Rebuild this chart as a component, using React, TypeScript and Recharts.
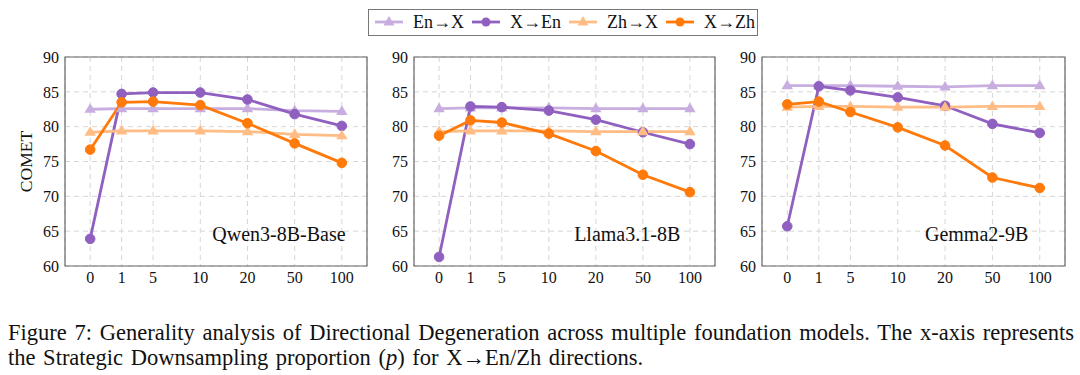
import React from "react";
import {
  LineChart,
  Line,
  XAxis,
  YAxis,
  CartesianGrid,
  ReferenceArea,
  ReferenceDot,
} from "recharts";

// proportion p (x axis is not linear in p, so each label has its own slot)
const xLabels = ["0", "1", "5", "10", "20", "50", "100"];
const xSlots = [0, 1, 2, 3.5, 5, 6.5, 8];
const yTicks = [60, 65, 70, 75, 80, 85, 90];

const qwenEnX = [82.5, 82.6, 82.6, 82.6, 82.6, 82.3, 82.2];
const qwenXEn = [63.9, 84.7, 84.9, 84.9, 83.9, 81.8, 80.1];
const qwenZhX = [79.2, 79.4, 79.4, 79.4, 79.3, 78.9, 78.7];
const qwenXZh = [76.7, 83.5, 83.6, 83.1, 80.5, 77.6, 74.8];

const llamaEnX = [82.6, 82.7, 82.7, 82.7, 82.6, 82.6, 82.6];
const llamaXEn = [61.3, 82.9, 82.8, 82.3, 81.0, 79.2, 77.5];
const llamaZhX = [79.3, 79.4, 79.4, 79.4, 79.3, 79.3, 79.3];
const llamaXZh = [78.7, 80.9, 80.6, 79.0, 76.5, 73.1, 70.6];

const gemmaEnX = [85.9, 85.9, 85.9, 85.8, 85.7, 85.9, 85.9];
const gemmaXEn = [65.7, 85.8, 85.2, 84.2, 83.0, 80.4, 79.1];
const gemmaZhX = [82.8, 82.9, 82.9, 82.8, 82.8, 82.9, 82.9];
const gemmaXZh = [83.2, 83.6, 82.1, 79.9, 77.3, 72.7, 71.2];

const series = [
  { key: "enx", name: "En→X", color: "#c8aee0", shape: "tri" },
  { key: "xen", name: "X→En", color: "#9060c0", shape: "circle" },
  { key: "zhx", name: "Zh→X", color: "#ffbd85", shape: "tri" },
  { key: "xzh", name: "X→Zh", color: "#ff7a0a", shape: "circle" },
];

const rows = (a: number[], b: number[], c: number[], d: number[]) =>
  xSlots.map((x, i) => ({ x, enx: a[i], xen: b[i], zhx: c[i], xzh: d[i] }));

const panels = [
  { title: "Qwen3-8B-Base", data: rows(qwenEnX, qwenXEn, qwenZhX, qwenXZh), left: 0, yw: 65, w: 370, ylabel: true },
  { title: "Llama3.1-8B", data: rows(llamaEnX, llamaXEn, llamaZhX, llamaXZh), left: 360, yw: 54, w: 358, ylabel: false },
  { title: "Gemma2-9B", data: rows(gemmaEnX, gemmaXEn, gemmaZhX, gemmaXZh), left: 720, yw: 42, w: 348, ylabel: false },
];

const serif = "'Liberation Serif', 'DejaVu Serif', serif";

function makeDot(shape: string, color: string) {
  return (p: any) => {
    const { cx, cy, index } = p;
    if (cx == null || cy == null) return <g key={index} />;
    if (shape === "circle") {
      return <circle key={index} cx={cx} cy={cy} r={4.8} fill={color} stroke={color} />;
    }
    const s = 6;
    return (
      <path
        key={index}
        d={`M${cx},${cy - s} L${cx + s * 0.95},${cy + s * 0.6} L${cx - s * 0.95},${cy + s * 0.6} Z`}
        fill={color}
      />
    );
  };
}

function Panel({ p }: { p: (typeof panels)[number] }) {
  return (
    <div style={{ position: "absolute", left: p.left, top: 0 }}>
      <LineChart
        width={p.w}
        height={300}
        data={p.data}
        margin={{ top: 57, right: 3, left: 0, bottom: 4 }}
      >
        <CartesianGrid stroke="#d6d6d6" strokeDasharray="5 4" />
        <XAxis
          dataKey="x"
          type="number"
          domain={[-0.8, 8.8]}
          ticks={xSlots}
          tickFormatter={(v: number) => xLabels[xSlots.indexOf(v)]}
          axisLine={false}
          tickLine={false}
          tickSize={0}
          tickMargin={6}
          height={30}
          tick={{ fill: "#111", fontSize: 16, fontFamily: serif }}
          interval={0}
        />
        <YAxis
          type="number"
          domain={[60, 90]}
          ticks={yTicks}
          axisLine={false}
          tickLine={false}
          tickSize={0}
          tickMargin={6}
          width={p.yw}
          tick={{ fill: "#111", fontSize: 16, fontFamily: serif }}
          interval={0}
          label={
            p.ylabel
              ? {
                  value: "COMET",
                  angle: -90,
                  position: "insideLeft",
                  offset: 26,
                  style: { fill: "#111", fontSize: 17.5, fontFamily: serif, textAnchor: "middle" },
                }
              : undefined
          }
        />
        <ReferenceArea
          x1={-0.8}
          x2={8.8}
          y1={60}
          y2={90}
          fill="none"
          fillOpacity={0}
          stroke="#666"
          strokeWidth={1.2}
        />
        {series.map((s) => (
          <Line
            key={s.key}
            type="linear"
            dataKey={s.key}
            stroke={s.color}
            strokeWidth={2.8}
            dot={makeDot(s.shape, s.color)}
            activeDot={false}
            isAnimationActive={false}
          />
        ))}
        <ReferenceDot
          x={6}
          y={64.6}
          r={0}
          fill="none"
          stroke="none"
          label={{
            value: p.title,
            position: "center",
            style: { fill: "#111", fontSize: 20, fontFamily: serif },
          }}
        />
      </LineChart>
    </div>
  );
}

function LegendBox() {
  return (
    <div
      style={{
        position: "absolute",
        left: 368,
        top: 9,
        width: 390,
        height: 27,
        border: "1.5px solid #777",
        boxSizing: "border-box",
        fontFamily: serif,
        fontSize: 18,
        color: "#111",
      }}
    >
      {series.map((s, i) => (
        <div
          key={s.key}
          style={{
            position: "absolute",
            left: 5 + i * 97,
            top: 0,
            height: 24,
            display: "flex",
            alignItems: "center",
            whiteSpace: "nowrap",
          }}
        >
          <svg width={30} height={14} style={{ marginRight: 9 }}>
            <line x1={1} y1={7} x2={29} y2={7} stroke={s.color} strokeWidth={2.8} />
            {s.shape === "circle" ? (
              <circle cx={15} cy={7} r={4.5} fill={s.color} />
            ) : (
              <path d="M15,1 L20.5,10.5 L9.5,10.5 Z" fill={s.color} />
            )}
          </svg>
          <span>{s.name}</span>
        </div>
      ))}
    </div>
  );
}

export default function App() {
  return (
    <div
      style={{
        position: "absolute",
        left: 0,
        top: 0,
        width: 1080,
        height: 375,
        background: "#fff",
        overflow: "hidden",
      }}
    >
      <LegendBox />
      {panels.map((p) => (
        <Panel key={p.title} p={p} />
      ))}
      <div
        style={{
          position: "absolute",
          left: 8,
          top: 320,
          width: 1066,
          fontFamily: serif,
          fontSize: 22.5,
          lineHeight: "25px",
          color: "#111",
        }}
      >
        <div style={{ textAlign: "justify", textAlignLast: "justify", whiteSpace: "nowrap" }}>
          Figure 7: Generality analysis of Directional Degeneration across multiple foundation models. The x-axis represents
        </div>
        <div style={{ wordSpacing: 2 }}>
          the Strategic Downsampling proportion (<i>p</i>) for X→En/Zh directions.
        </div>
      </div>
    </div>
  );
}
